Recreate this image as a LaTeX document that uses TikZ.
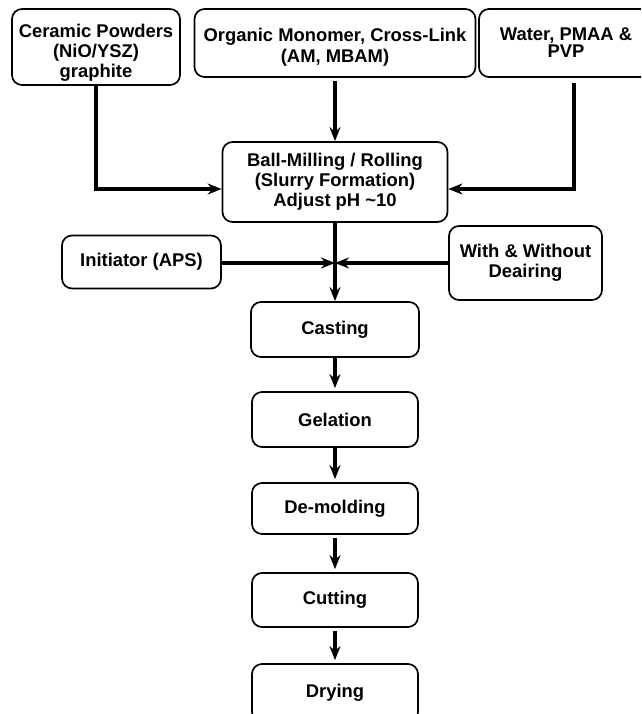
\documentclass[tikz,border=0pt]{standalone}
\usepackage{fontspec}
\setmainfont{Liberation Sans}
\usetikzlibrary{arrows.meta}
\newcommand\droptext[2]{\raisebox{#1}[0pt][0pt]{\begin{tabular}{@{}c@{}}#2\end{tabular}}}
\begin{document}
\begin{tikzpicture}[x=1pt,y=-1pt,
  box/.style={draw, line width=1.7pt, rounded corners=10pt, fill=white, inner sep=0pt, align=center,
    font=\fontsize{18.4}{20}\selectfont\bfseries},
  flow/.style={line width=3.5pt, -{Stealth[length=14pt,width=11pt,inset=4.5pt]}},
  feed/.style={line width=4.5pt, -{Stealth[length=14pt,width=11pt,inset=4.5pt]}}]
\useasboundingbox (0,0) rectangle (641,714);
\clip (0,0) rectangle (641,714);
% input boxes
\node[box, minimum width=168pt, minimum height=76pt] (ceramic) at (96,47) {\droptext{-11pt}{Ceramic Powders\\(NiO/YSZ)\\graphite}};
\node[box, minimum width=281pt, minimum height=68pt] (organic) at (335,43) {\droptext{-9pt}{Organic Monomer, Cross-Link\\[1pt](AM, MBAM)}};
\node[box, minimum width=174pt, minimum height=68pt] (water) at (566,43) {\droptext{-6pt}{Water, PMAA \&\\[-3pt]PVP}};
% slurry
\node[box, minimum width=225pt, minimum height=80pt] (ball) at (335,182) {Ball-Milling / Rolling\\(Slurry Formation)\\Adjust pH \textasciitilde10};
% side inputs
\node[box, minimum width=159pt, minimum height=53pt] (init) at (141.5,262) {Initiator (APS)};
\node[box, minimum width=153pt, minimum height=74pt] (dear) at (525.5,263) {With \& Without\\Deairing};
\coordinate (J) at (335,263);
% main column
\node[box, minimum width=168pt, minimum height=55pt] (casting) at (335,329.5) {Casting};
\node[box, minimum width=166pt, minimum height=55pt] (gelation) at (335,419.5) {Gelation};
\node[box, minimum width=166pt, minimum height=51pt] (demolding) at (335,508.5) {De-molding};
\node[box, minimum width=166pt, minimum height=54pt] (cutting) at (335,600) {Cutting};
\node[box, minimum width=166pt, minimum height=58pt] (drying) at (335,693) {Drying};
% connectors
\draw[feed] (ceramic.south) |- ([yshift=-7pt]ball.west);
\draw[flow, shorten <=3pt] (organic.south) -- (ball.north);
\draw[feed, shorten <=5pt] ([xshift=8pt]water.south) |- ([yshift=-7pt]ball.east);
\draw[flow] (ball.south) -- (casting.north);
\draw[flow] (init.east |- J) -- (J);
\draw[flow] (dear.west |- J) -- (J);
\draw[flow, shorten >=3pt] (casting.south) -- (gelation.north);
\draw[flow, shorten >=3pt] (gelation.south) -- (demolding.north);
\draw[flow, shorten >=3pt, shorten <=3pt] (demolding.south) -- (cutting.north);
\draw[flow, shorten >=3pt, shorten <=3pt] (cutting.south) -- (drying.north);
\end{tikzpicture}
\end{document}
